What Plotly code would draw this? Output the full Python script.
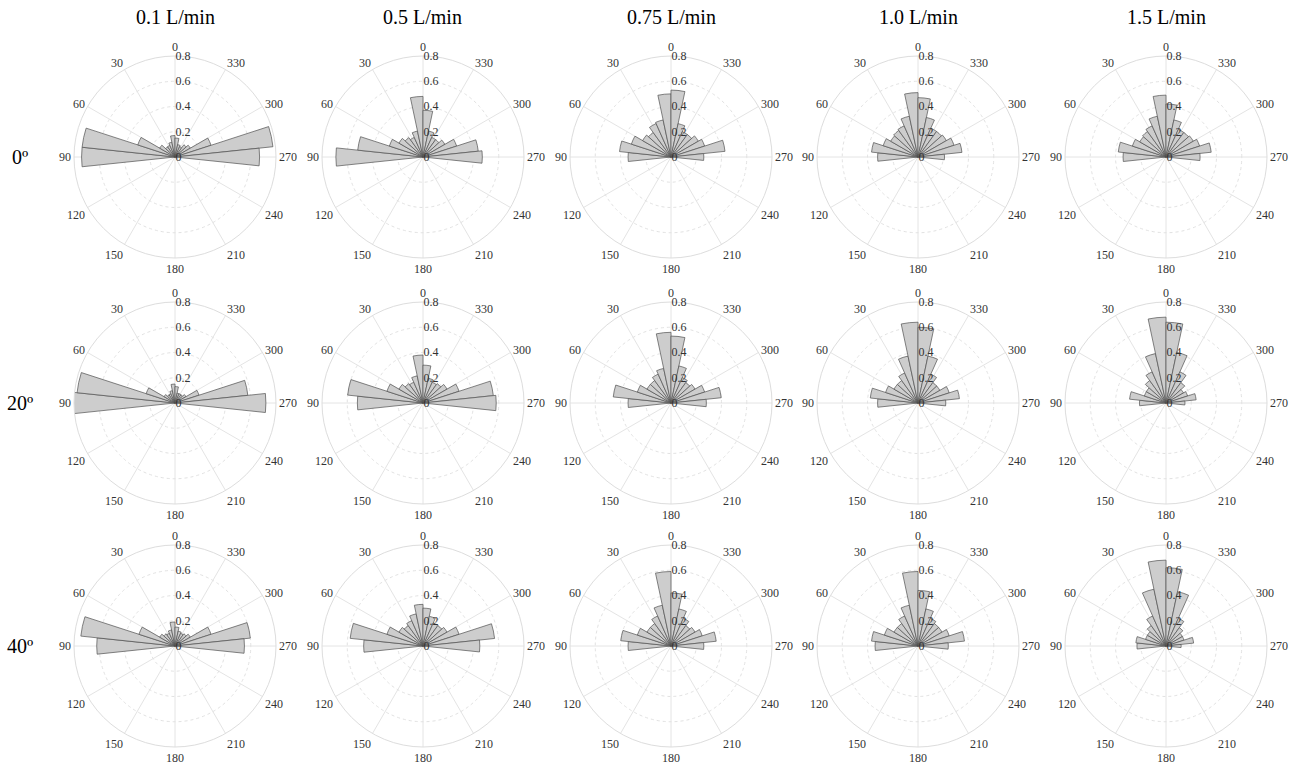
import plotly.graph_objects as go

# ---------------- data ----------------
flow_rates = ["0.1 L/min", "0.5 L/min", "0.75 L/min", "1.0 L/min", "1.5 L/min"]
tilts = ["0º", "20º", "40º"]

# bin centres (deg), 12-degree bins, from 90 (left) through 0 (top) to 270 (right)
bin_centers = [90, 78, 66, 54, 42, 30, 18, 6, -6, -18, -30, -42, -54, -66, -78, -90]
bin_width = 12

tilt0_q01 = [0.74, 0.74, 0.31, 0.14, 0.10, 0.10, 0.12, 0.17, 0.15, 0.10, 0.09, 0.12, 0.14, 0.30, 0.78, 0.67]
tilt0_q05 = [0.69, 0.52, 0.28, 0.22, 0.19, 0.17, 0.21, 0.48, 0.37, 0.21, 0.17, 0.17, 0.20, 0.28, 0.44, 0.47]
tilt0_q075 = [0.34, 0.41, 0.33, 0.26, 0.24, 0.29, 0.30, 0.50, 0.53, 0.27, 0.22, 0.22, 0.25, 0.28, 0.43, 0.26]
tilt0_q10 = [0.32, 0.37, 0.29, 0.25, 0.26, 0.27, 0.33, 0.51, 0.47, 0.32, 0.25, 0.25, 0.26, 0.30, 0.35, 0.21]
tilt0_q15 = [0.34, 0.38, 0.28, 0.24, 0.25, 0.27, 0.33, 0.49, 0.42, 0.30, 0.24, 0.24, 0.25, 0.28, 0.36, 0.27]

tilt20_q01 = [0.81, 0.78, 0.24, 0.10, 0.08, 0.08, 0.10, 0.15, 0.13, 0.08, 0.08, 0.08, 0.10, 0.20, 0.58, 0.72]
tilt20_q05 = [0.52, 0.60, 0.30, 0.22, 0.19, 0.18, 0.22, 0.38, 0.30, 0.20, 0.18, 0.19, 0.22, 0.30, 0.56, 0.58]
tilt20_q075 = [0.34, 0.46, 0.28, 0.22, 0.22, 0.25, 0.28, 0.56, 0.53, 0.30, 0.22, 0.20, 0.22, 0.28, 0.40, 0.28]
tilt20_q10 = [0.32, 0.38, 0.27, 0.22, 0.22, 0.26, 0.38, 0.64, 0.60, 0.38, 0.25, 0.20, 0.20, 0.26, 0.33, 0.22]
tilt20_q15 = [0.21, 0.29, 0.18, 0.18, 0.22, 0.27, 0.40, 0.68, 0.64, 0.41, 0.27, 0.20, 0.16, 0.18, 0.24, 0.15]

tilt40_q01 = [0.62, 0.75, 0.30, 0.14, 0.12, 0.11, 0.13, 0.19, 0.15, 0.12, 0.11, 0.12, 0.14, 0.30, 0.60, 0.55]
tilt40_q05 = [0.47, 0.58, 0.30, 0.22, 0.20, 0.22, 0.26, 0.33, 0.30, 0.24, 0.20, 0.20, 0.22, 0.30, 0.57, 0.45]
tilt40_q075 = [0.34, 0.40, 0.28, 0.22, 0.22, 0.26, 0.33, 0.59, 0.42, 0.30, 0.24, 0.20, 0.22, 0.26, 0.36, 0.26]
tilt40_q10 = [0.34, 0.37, 0.28, 0.22, 0.22, 0.26, 0.33, 0.59, 0.44, 0.30, 0.24, 0.22, 0.22, 0.26, 0.37, 0.24]
tilt40_q15 = [0.23, 0.24, 0.17, 0.17, 0.20, 0.26, 0.46, 0.68, 0.62, 0.44, 0.24, 0.18, 0.15, 0.15, 0.22, 0.12]

grid_values = [
    [tilt0_q01, tilt0_q05, tilt0_q075, tilt0_q10, tilt0_q15],
    [tilt20_q01, tilt20_q05, tilt20_q075, tilt20_q10, tilt20_q15],
    [tilt40_q01, tilt40_q05, tilt40_q075, tilt40_q10, tilt40_q15],
]

angle_ticks = list(range(0, 360, 30))
radial_ticks = [0, 0.2, 0.4, 0.6, 0.8]

# ---------------- layout geometry ----------------
W, H = 1301, 769
col_cx = [175, 423, 671, 918, 1166]
row_cy = [157, 403, 646]
R = 101
FONT = "Liberation Serif, Times New Roman, serif"

fig = go.Figure()
layout_updates = {}
k = 0
for ri, row in enumerate(grid_values):
    for ci, vals in enumerate(row):
        k += 1
        pname = "polar" if k == 1 else f"polar{k}"
        fig.add_trace(go.Barpolar(
            r=vals,
            theta=bin_centers,
            width=[bin_width] * len(bin_centers),
            marker=dict(color="#cdcdcd", line=dict(color="#505050", width=0.7)),
            subplot=pname,
            showlegend=False,
            hoverinfo="r+theta",
        ))
        cx, cy = col_cx[ci], row_cy[ri]
        layout_updates[pname] = dict(
            domain=dict(x=[(cx - R) / W, (cx + R) / W],
                        y=[1 - (cy + R) / H, 1 - (cy - R) / H]),
            bgcolor="white",
            angularaxis=dict(
                rotation=90, direction="counterclockwise",
                tickmode="array", tickvals=angle_ticks,
                ticktext=[str(a) for a in angle_ticks],
                ticks="", showline=True, linecolor="#dddddd", linewidth=1,
                gridcolor="#e4e4e4", gridwidth=1,
                tickfont=dict(family=FONT, size=12, color="#333333"),
            ),
            radialaxis=dict(
                range=[0, 0.8], tickmode="array", tickvals=radial_ticks,
                ticktext=["0", "0.2", "0.4", "0.6", "0.8"],
                angle=90, tickangle=90, side="clockwise",
                ticks="", showline=False,
                gridcolor="#e2e2e2", gridwidth=1, griddash="3px,3px",
                tickfont=dict(family=FONT, size=12, color="#333333"),
            ),
            barmode="overlay",
        )

annotations = []
for ci, name in enumerate(flow_rates):
    annotations.append(dict(
        x=col_cx[ci] / W, y=1 - 17 / H, xref="paper", yref="paper",
        text=name, showarrow=False, xanchor="center", yanchor="middle",
        font=dict(family=FONT, size=20, color="black"),
    ))
for ri, name in enumerate(tilts):
    annotations.append(dict(
        x=20 / W, y=1 - row_cy[ri] / H, xref="paper", yref="paper",
        text=name, showarrow=False, xanchor="center", yanchor="middle",
        font=dict(family=FONT, size=20, color="black"),
    ))

fig.update_layout(
    width=W, height=H,
    margin=dict(l=0, r=0, t=0, b=0),
    paper_bgcolor="white",
    annotations=annotations,
    **layout_updates,
)

# remove the default page margin so the figure sits at the window's top-left corner
fig.write_html("out.html",
               config={"displayModeBar": False},
               post_script="document.body.style.margin='0';document.body.style.overflow='hidden';")
